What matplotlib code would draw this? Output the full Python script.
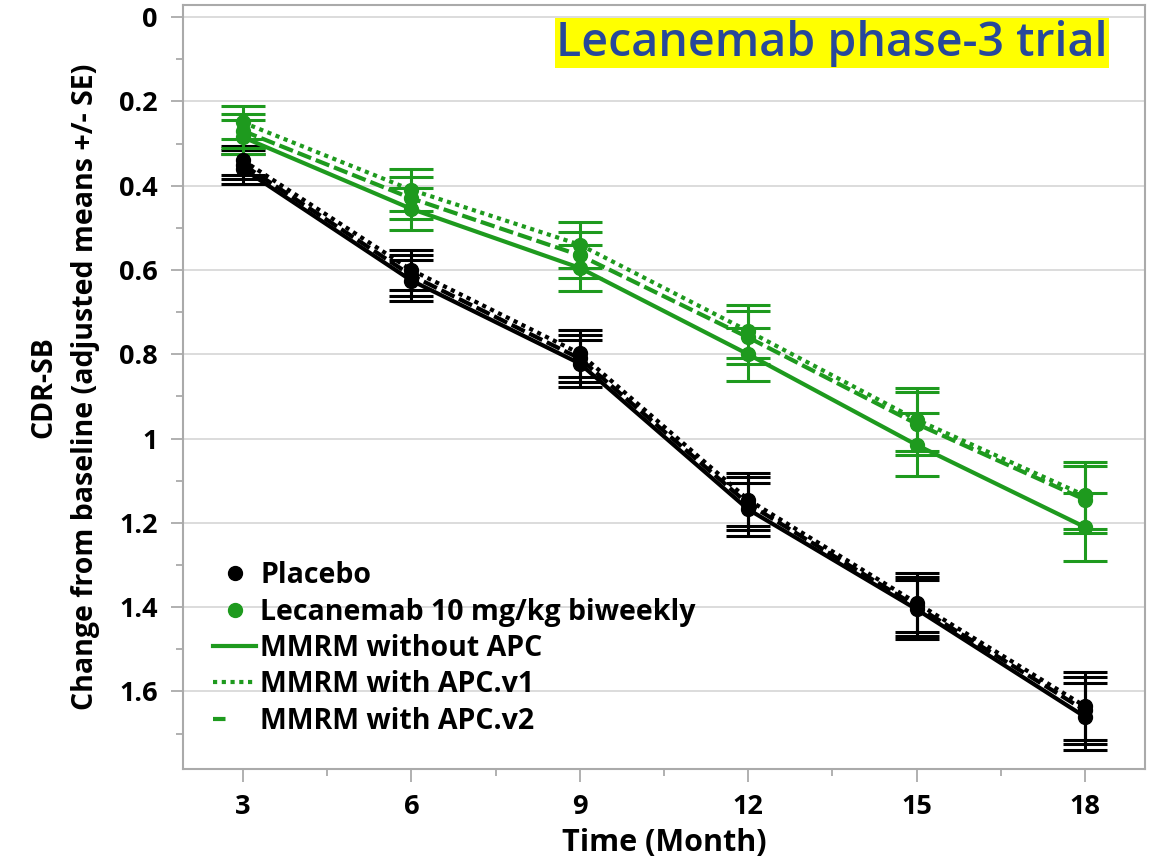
import matplotlib
matplotlib.use("Agg")
import matplotlib.pyplot as plt
from matplotlib.lines import Line2D
from matplotlib.ticker import MultipleLocator

plt.rcParams['font.family'] = ['Open Sans', 'DejaVu Sans']

months = [3, 6, 9, 12, 15, 18]

# placebo: adjusted means and SE
placebo_noapc = [0.36, 0.625, 0.822, 1.168, 1.405, 1.66]
placebo_v1 = [0.34, 0.600, 0.798, 1.145, 1.390, 1.635]
placebo_v2 = [0.35, 0.613, 0.810, 1.155, 1.398, 1.645]
placebo_se = [0.035, 0.048, 0.055, 0.063, 0.07, 0.08]

# lecanemab 10 mg/kg biweekly
lec_noapc = [0.285, 0.455, 0.595, 0.800, 1.015, 1.21]
lec_v1 = [0.25, 0.41, 0.54, 0.745, 0.955, 1.135]
lec_v2 = [0.27, 0.43, 0.565, 0.76, 0.965, 1.145]
lec_se = [0.04, 0.05, 0.055, 0.063, 0.075, 0.08]

GREEN = '#1e9a1e'
styles = {'noapc': '-', 'v1': (0, (1, 1.1)), 'v2': (0, (3.5, 1.2))}

fig = plt.figure(figsize=(11.53, 8.59), dpi=100)
ax = fig.add_axes([0.1587, 0.1048, 0.8343, 0.889])

series = [
    (placebo_noapc, placebo_se, 'black', 'noapc'),
    (placebo_v2, placebo_se, 'black', 'v2'),
    (placebo_v1, placebo_se, 'black', 'v1'),
    (lec_noapc, lec_se, GREEN, 'noapc'),
    (lec_v2, lec_se, GREEN, 'v2'),
    (lec_v1, lec_se, GREEN, 'v1'),
]
for vals, se, col, key in series:
    ax.errorbar(months, vals, yerr=se, color=col, lw=3, ls=styles[key],
                marker='o', ms=10, capsize=16, capthick=2.2, elinewidth=2.2, zorder=3)

ax.set_xlim(1.93, 19.07)
ax.set_ylim(1.784, -0.028)
ax.xaxis.set_major_locator(MultipleLocator(3))
ax.xaxis.set_minor_locator(MultipleLocator(1.5))
ax.yaxis.set_minor_locator(MultipleLocator(0.1))
ax.set_yticks([0, 0.2, 0.4, 0.6, 0.8, 1.0, 1.2, 1.4, 1.6])
ax.set_yticklabels(['0', '0.2', '0.4', '0.6', '0.8', '1', '1.2', '1.4', '1.6'])
ax.grid(axis='y', color='#d9d9d9', lw=1.3, zorder=0)
ax.set_axisbelow(True)
for s in ax.spines.values():
    s.set_color('#aaaaaa')
    s.set_linewidth(1.5)
ax.tick_params(which='both', color='#aaaaaa', width=1.3, direction='out')
ax.tick_params(which='major', length=9, labelsize=19.5, pad=9)
ax.tick_params(which='minor', length=5)
for lab in ax.get_xticklabels() + ax.get_yticklabels():
    lab.set_fontweight('bold')

ax.set_xlabel('Time (Month)', fontsize=22, fontweight='bold', labelpad=6)
ax.set_ylabel('CDR-SB\nChange from baseline (adjusted means +/- SE)',
              fontsize=20.5, fontweight='bold', labelpad=14, linespacing=1.55)

ax.text(0.9615, 0.981, 'Lecanemab phase-3 trial', transform=ax.transAxes,
        ha='right', va='top', fontsize=33.5, fontweight='semibold', color='#27489a',
        bbox=dict(facecolor='#ffff00', edgecolor='none', pad=1))

handles = [
    Line2D([], [], color='black', marker='o', ls='none', ms=10),
    Line2D([], [], color=GREEN, marker='o', ls='none', ms=10),
    Line2D([], [], color=GREEN, lw=3, ls='-'),
    Line2D([], [], color=GREEN, lw=3, ls=(0, (1, 1.1))),
    Line2D([], [], color=GREEN, lw=3, ls=(0, (3, 10))),
]
labels = ['Placebo', 'Lecanemab 10 mg/kg biweekly', 'MMRM without APC',
          'MMRM with APC.v1', 'MMRM with APC.v2']
leg = ax.legend(handles, labels, loc='lower left', bbox_to_anchor=(0.005, 0.01),
                frameon=False, prop={'weight': 'bold', 'size': 20.5},
                handlelength=1.5, handletextpad=0.15, labelspacing=0.26)

fig.savefig('out.png', dpi=100)
